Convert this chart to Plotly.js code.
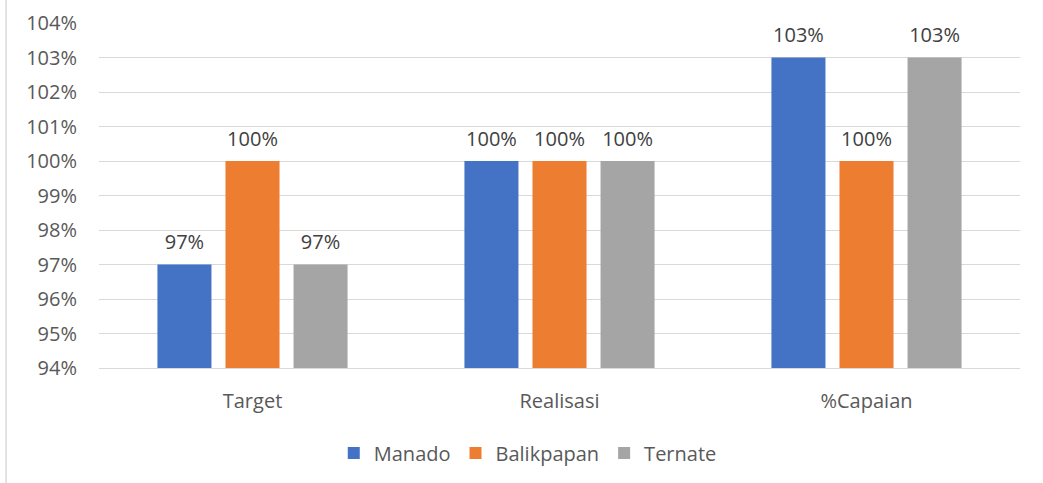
<!DOCTYPE html>
<html>
<head>
<meta charset="utf-8">
<script src="https://cdn.plot.ly/plotly-3.0.1.min.js"></script>
<style>
html,body{margin:0;padding:0;background:#fff;}
#chart{width:1043px;height:483px;}
</style>
</head>
<body>
<div id="chart"></div>
<script>
const categories = ["Target", "Realisasi", "%Capaian"];
const manado = [0.97, 1.00, 1.03];
const balikpapan = [1.00, 1.00, 1.00];
const ternate = [0.97, 1.00, 1.03];
const seriesNames = ["Manado", "Balikpapan", "Ternate"];
const seriesColors = ["#4472C4", "#ED7D31", "#A5A5A5"];
const yTickVals = [0.94, 0.95, 0.96, 0.97, 0.98, 0.99, 1.00, 1.01, 1.02, 1.03, 1.04];

const FONT = "Open Sans, Noto Sans, sans-serif";
const TXT = "#595959";

const data = [manado, balikpapan, ternate].map((vals, i) => ({
  type: "bar",
  name: seriesNames[i],
  x: categories,
  y: vals,
  marker: {color: seriesColors[i]},
  texttemplate: "<span style='font-size:20px'>%{y:.0%}</span><br><span style='font-size:8px'> </span>",
  textposition: "outside",
  cliponaxis: false,
  textfont: {family: FONT, size: 8, color: "#404040"},
  hoverinfo: "skip"
}));

const layout = {
  width: 1043,
  height: 483,
  paper_bgcolor: "#ffffff",
  plot_bgcolor: "#ffffff",
  font: {family: FONT, size: 20, color: TXT},
  margin: {l: 99, r: 23, t: 23, b: 114.5, pad: 0},
  barmode: "group",
  bargap: 0.335,
  bargroupgap: 0.206,
  showlegend: true,
  legend: {
    orientation: "h",
    xref: "container", yref: "container",
    x: 0.506, xanchor: "center",
    y: 0.062, yanchor: "middle",
    font: {family: FONT, size: 20, color: TXT},
    itemclick: false
  },
  xaxis: {
    type: "category",
    showgrid: false,
    showline: true,
    linecolor: "#d9d9d9",
    linewidth: 1,
    ticks: "",
    ticklabelstandoff: 15,
    tickfont: {family: FONT, size: 20, color: TXT},
    zeroline: false
  },
  yaxis: {
    range: [0.94, 1.04],
    tickvals: yTickVals,
    tickformat: ".0%",
    showgrid: true,
    gridcolor: "#d9d9d9",
    gridwidth: 1,
    showline: false,
    zeroline: false,
    ticks: "",
    ticklabelstandoff: 21,
    tickfont: {family: FONT, size: 20, color: TXT}
  },
  shapes: [{
    type: "line", xref: "paper", yref: "paper",
    x0: -0.1009, x1: -0.1009, y0: -0.4, y1: 1.08,
    line: {color: "#d9d9d9", width: 1.5}
  }]
};

Plotly.newPlot("chart", data, layout, {staticPlot: true, displayModeBar: false});
</script>
</body>
</html>
